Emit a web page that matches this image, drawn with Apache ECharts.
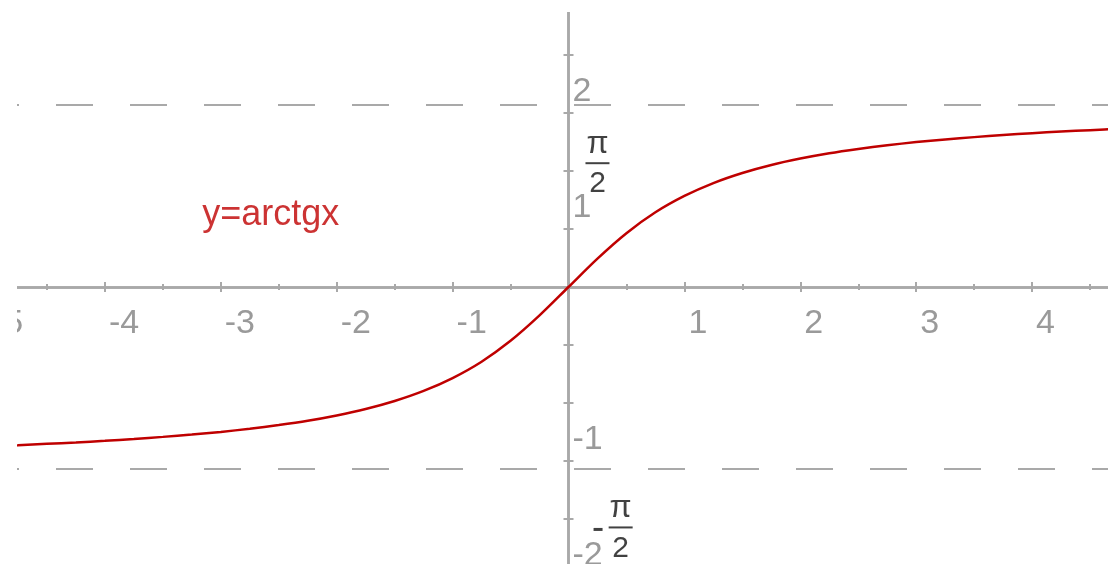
<!DOCTYPE html>
<html>
<head>
<meta charset="utf-8">
<script src="https://cdn.jsdelivr.net/npm/echarts@6/dist/echarts.min.js"></script>
<style>
  html, body { margin: 0; padding: 0; background: #fff; }
  #chart { width: 1108px; height: 564px; }
</style>
</head>
<body>
<div id="chart"></div>
<script>
// curve y = arctg x
const xs = [-5, -4.75, -4.5, -4.25, -4, -3.75, -3.5, -3.25, -3, -2.75, -2.5, -2.25, -2, -1.75, -1.5, -1.25, -1, -0.75, -0.5, -0.25,
  0, 0.25, 0.5, 0.75, 1, 1.25, 1.5, 1.75, 2, 2.25, 2.5, 2.75, 3, 3.25, 3.5, 3.75, 4, 4.25, 4.5, 4.75, 5]
const ys = [-1.373, -1.364, -1.352, -1.340, -1.326, -1.310, -1.292, -1.272, -1.249, -1.222, -1.190, -1.153, -1.107, -1.052, -0.983, -0.896, -0.785, -0.644, -0.464, -0.245,
  0, 0.245, 0.464, 0.644, 0.785, 0.896, 0.983, 1.052, 1.107, 1.153, 1.190, 1.222, 1.249, 1.272, 1.292, 1.310, 1.326, 1.340, 1.352, 1.364, 1.373]

// asymptotes y = ±π/2
const asymptotes = [1.5708, -1.5708]

// text annotations
const titleText = 'y=arctgx'
const titlePos = [-3.16, 0.62]
const fracPos = [[0.25, 1.05], [0.45, -2.09]]
const minusPos = [0.255, -2.09]

const xMin = -5, xMax = 5
const yMin = -2.5, yMax = 2.5

const gray = '#a9a9a9'
const labelGray = '#9a9a9a'
const red = '#bf0000'

// plot box: 115.9 px per x unit, 116 px per y unit
const W = 1108, H = 564
const box = { left: -11, top: -3, width: 1159, height: 580 }
// shift axes from the grid edges onto the zero lines
const xShift = -box.height / 2
const yShift = -box.width / 2

function intLabel(v) {
  return (Number.isInteger(v) && v !== 0) ? String(v) : ''
}

const chart = echarts.init(document.getElementById('chart'))

const gridBox = {
  left: box.left, top: box.top, width: box.width, height: box.height,
  containLabel: false, outerBoundsMode: 'none'
}

const baseX = {
  type: 'value', min: xMin, max: xMax, interval: 1,
  splitLine: { show: false },
  offset: xShift,
  axisLine: { onZero: false, lineStyle: { color: gray, width: 2.5 } },
  axisTick: { length: 5, lineStyle: { color: gray, width: 2 } },
  minorTick: { show: true, splitNumber: 2, length: 3, lineStyle: { color: gray, width: 2 } }
}
const baseY = {
  type: 'value', min: yMin, max: yMax, interval: 0.5,
  splitLine: { show: false },
  offset: yShift,
  axisLine: { onZero: false, lineStyle: { color: gray, width: 2.5 } },
  axisTick: { length: 5, lineStyle: { color: gray, width: 2 } }
}

chart.setOption({
  animation: false,
  // second grid only carries the other half of the crossing ticks
  grid: [Object.assign({}, gridBox), Object.assign({}, gridBox)],
  xAxis: [
    Object.assign({}, baseX, {
      gridIndex: 0, position: 'bottom',
      axisLabel: {
        formatter: intLabel, color: labelGray, fontSize: 34, fontFamily: 'Liberation Sans',
        align: 'left', padding: [0, 0, 0, 4], margin: 20, showMinLabel: true, showMaxLabel: true
      }
    }),
    Object.assign({}, baseX, { gridIndex: 1, position: 'top', axisLabel: { show: false } })
  ],
  yAxis: [
    Object.assign({}, baseY, {
      gridIndex: 0, position: 'left',
      axisLabel: {
        inside: true, formatter: intLabel, color: labelGray, fontSize: 34, fontFamily: 'Liberation Sans',
        align: 'left', verticalAlign: 'top', lineHeight: 74, margin: 4
      }
    }),
    Object.assign({}, baseY, { gridIndex: 1, position: 'right', axisLabel: { show: false } })
  ],
  series: [
    {
      type: 'line',
      data: xs.map((x, i) => [x, ys[i]]),
      showSymbol: false,
      smooth: 0.3,
      lineStyle: { color: red, width: 2.5 },
      z: 5,
      markLine: {
        silent: true,
        symbol: 'none',
        label: { show: false },
        lineStyle: { color: gray, width: 2, type: [37, 37], dashOffset: 7 },
        data: asymptotes.map(v => ({ yAxis: v }))
      }
    },
    {
      type: 'scatter',
      symbolSize: 0,
      data: [titlePos],
      label: {
        show: true, position: 'right', distance: 0, formatter: titleText,
        color: red, fontSize: 36, fontFamily: 'Liberation Sans', verticalAlign: 'middle'
      }
    },
    {
      type: 'scatter',
      symbolSize: 0,
      data: fracPos,
      label: {
        show: true, position: 'inside',
        formatter: '{n|π}\n{l|}\n{d|2}',
        rich: {
          n: { fontSize: 32, color: '#111', fontFamily: 'Liberation Sans', align: 'center', lineHeight: 30 },
          l: { width: 24, height: 2, backgroundColor: '#111', align: 'center', lineHeight: 8 },
          d: { fontSize: 30, color: '#111', fontFamily: 'Liberation Sans', align: 'center', lineHeight: 34 }
        }
      }
    },
    {
      type: 'scatter',
      symbolSize: 0,
      data: [minusPos],
      label: {
        show: true, position: 'inside', formatter: '{l|}',
        rich: { l: { width: 9, height: 3, backgroundColor: '#111' } }
      }
    }
  ],
  graphic: [
    { type: 'rect', left: 0, top: 0, shape: { width: 17, height: H }, style: { fill: '#fff' }, z: 100 },
    { type: 'rect', left: 0, top: 0, shape: { width: W, height: 12 }, style: { fill: '#fff' }, z: 100 }
  ]
})
</script>
</body>
</html>
